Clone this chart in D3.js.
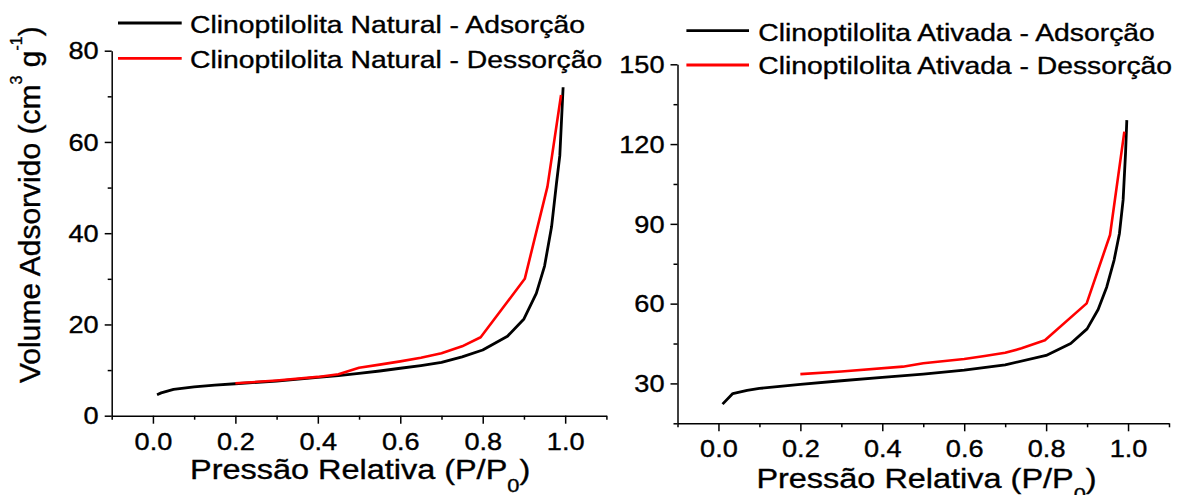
<!DOCTYPE html>
<html><head><meta charset="utf-8">
<script src="https://cdn.jsdelivr.net/npm/d3@7"></script>
<style>
body{margin:0;background:#fff}
svg{display:block}
text{font-family:"Liberation Sans",Arial,sans-serif;fill:#000;stroke:#000;stroke-width:0.35px}
</style>
</head><body>
<svg id="chart" width="1184" height="495"></svg>
<script>
// ---------- data ----------
const xMajorTicks = [0, 0.2, 0.4, 0.6, 0.8, 1.0];
const xMinorTicks = [-0.1, 0.1, 0.3, 0.5, 0.7, 0.9, 1.1];
const leftYMajor = [0, 20, 40, 60, 80];
const leftYMinor = [10, 30, 50, 70];
const rightYMajor = [30, 60, 90, 120, 150];
const rightYMinor = [15, 45, 75, 105, 135];

const naturalLegend = ["Clinoptilolita Natural - Adsorção", "Clinoptilolita Natural - Dessorção"];
const ativadaLegend = ["Clinoptilolita Ativada - Adsorção", "Clinoptilolita Ativada - Dessorção"];
const xTitle = "Pressão Relativa (P/P";
const yTitle = "Volume Adsorvido (cm";

const naturalAds = [[0.01,4.6],[0.02,5.0],[0.035,5.4],[0.05,5.75],[0.08,6.1],[0.1,6.3],[0.15,6.7],[0.2,7.0],
  [0.3,7.6],[0.4,8.4],[0.45,8.8],[0.5,9.3],[0.55,9.8],[0.6,10.4],[0.65,11.0],[0.7,11.7],[0.75,12.9],[0.8,14.4],
  [0.86,17.4],[0.9,21.2],[0.93,26.8],[0.95,32.8],[0.967,41.4],[0.979,51.0],[0.987,57.0],[0.995,72.0]];
const naturalDes = [[0.2,7.1],[0.3,7.7],[0.4,8.5],[0.45,9.1],[0.5,10.5],[0.55,11.2],[0.6,11.9],[0.65,12.7],
  [0.7,13.7],[0.75,15.2],[0.795,17.2],[0.902,30.0],[0.957,50.2],[0.99,70.3]];
const ativadaAds = [[0.01,22.2],[0.035,26.2],[0.07,27.4],[0.1,28.1],[0.15,28.9],[0.2,29.6],[0.3,31.0],[0.4,32.3],
  [0.5,33.5],[0.6,35.0],[0.7,37.0],[0.8,40.5],[0.86,45.0],[0.9,50.5],[0.927,57.8],[0.948,66.3],[0.966,76.4],
  [0.979,86.4],[0.988,99.0],[0.994,117.0],[0.997,129.0]];
const ativadaDes = [[0.2,33.5],[0.3,34.5],[0.45,36.3],[0.5,37.6],[0.6,39.2],[0.65,40.3],[0.7,41.5],[0.74,43.2],
  [0.797,46.2],[0.899,60.1],[0.956,85.8],[0.991,124.7]];

// ---------- layout ----------
const SX = 1.18; // horizontal text stretch seen in the reference
const svg = d3.select("#chart");

const panels = [
  {xr:[111.7,606.4], yd:[0,80], yr:[415.7,50.7], yMajor:leftYMajor, yMinor:leftYMinor,
   ads:naturalAds, des:naturalDes, legend:naturalLegend,
   legX:[118,181.7], legTextX:190, legY:[23,58.3], legBase:[33.3,68.3],
   tickBase:34.7, titleX:190, titleY:479, yLabel:true},
  {xr:[677.5,1169], yd:[15,150], yr:[423.3,64.3], yMajor:rightYMajor, yMinor:rightYMinor,
   ads:ativadaAds, des:ativadaDes, legend:ativadaLegend,
   legX:[686.4,749], legTextX:758.3, legY:[30.7,65], legBase:[40.7,74.3],
   tickBase:33.4, titleX:756.4, titleY:488.3, yLabel:false}
];

panels.forEach(p => {
  const x = d3.scaleLinear().domain([-0.1,1.1]).range(p.xr);
  const y = d3.scaleLinear().domain(p.yd).range(p.yr);
  const g = svg.append("g");

  // x axis
  const xa = g.append("g").attr("transform",`translate(0,${p.yr[0]})`)
    .call(d3.axisBottom(x).tickValues(xMajorTicks).tickSize(8).tickSizeOuter(0).tickFormat(d3.format(".1f")));
  g.append("g").attr("transform",`translate(0,${p.yr[0]})`)
    .call(d3.axisBottom(x).tickValues(xMinorTicks).tickSize(4).tickSizeOuter(0).tickFormat(""))
    .select(".domain").remove();
  xa.selectAll("text").attr("y",null).attr("dy",null)
    .attr("font-size",23)
    .attr("transform",`translate(0,${p.tickBase}) scale(${SX},1)`);

  // y axis
  const ya = g.append("g").attr("transform",`translate(${p.xr[0]},0)`)
    .call(d3.axisLeft(y).tickValues(p.yMajor).tickSize(7).tickSizeOuter(0));
  g.append("g").attr("transform",`translate(${p.xr[0]},0)`)
    .call(d3.axisLeft(y).tickValues(p.yMinor).tickSize(4).tickSizeOuter(0).tickFormat(""))
    .select(".domain").remove();
  ya.selectAll("text").attr("x",null).attr("dy","0.36em")
    .attr("font-size",23)
    .attr("transform",`translate(-13,0) scale(${SX},1)`);

  g.selectAll(".domain, .tick line").attr("stroke","#000").attr("stroke-width",1.5);

  // curves
  const line = d3.line().x(d=>x(d[0])).y(d=>y(d[1]));
  g.append("path").datum(p.ads).attr("d",line).attr("fill","none")
    .attr("stroke","#000").attr("stroke-width",2.8).attr("stroke-linejoin","round");
  g.append("path").datum(p.des).attr("d",line).attr("fill","none")
    .attr("stroke","#ff0000").attr("stroke-width",2.6).attr("stroke-linejoin","round");

  // legend
  const cols = ["#000","#ff0000"];
  p.legend.forEach((t,i) => {
    g.append("line").attr("x1",p.legX[0]).attr("x2",p.legX[1])
      .attr("y1",p.legY[i]).attr("y2",p.legY[i])
      .attr("stroke",cols[i]).attr("stroke-width",2.8);
    g.append("text").attr("font-size",24)
      .attr("transform",`translate(${p.legTextX},${p.legBase[i]}) scale(${SX},1)`)
      .text(t);
  });

  // x title
  const xt = g.append("text").attr("font-size",27.5)
    .attr("transform",`translate(${p.titleX},${p.titleY}) scale(${SX},1)`);
  xt.append("tspan").text(xTitle);
  xt.append("tspan").attr("font-size",18.5).attr("dy",13).text("0");
  xt.append("tspan").attr("dy",-13).text(")");

  // y title
  if (p.yLabel) {
    const yt = g.append("text").attr("font-size",30)
      .attr("transform","translate(40,383) rotate(-90)");
    yt.append("tspan").text(yTitle);
    yt.append("tspan").attr("font-size",16).attr("dy",-18).text("3");
    yt.append("tspan").attr("dy",18).text(" g");
    yt.append("tspan").attr("font-size",16).attr("dy",-18).text("-1");
    yt.append("tspan").attr("dy",18).text(")");
  }
});
</script>
</body></html>
